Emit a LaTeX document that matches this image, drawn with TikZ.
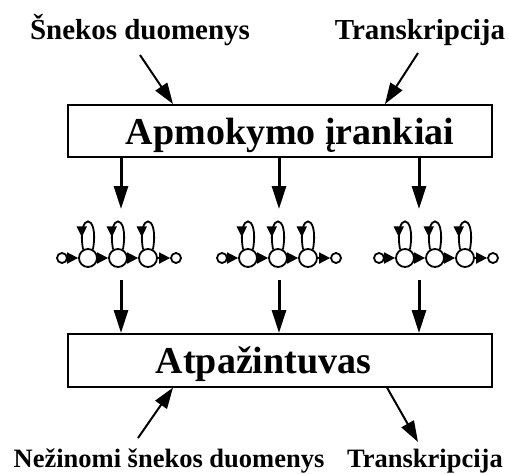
\documentclass[tikz,border=0pt]{standalone}
\usepackage{fontspec}
\setmainfont{Liberation Serif}
\usetikzlibrary{arrows.meta,decorations.markings,calc}
\begin{document}
\begin{tikzpicture}[x=1pt,y=-1pt,
  lbl/.style={font=\fontsize{29}{30}\selectfont\bfseries, anchor=base, inner sep=0},
  blbl/.style={font=\fontsize{26.5}{28}\selectfont\bfseries, anchor=base, inner sep=0},
  boxtxt/.style={font=\fontsize{38}{40}\selectfont\bfseries, anchor=base, inner sep=0},
  box/.style={draw, line width=1.6pt, minimum width=424pt, inner sep=0, anchor=north west},
  diag/.style={line width=2pt, -{Triangle[length=21pt,width=14pt]}},
  vert/.style={line width=3pt, -{Triangle[length=23pt,width=14pt]}},
  big/.style={circle, draw, line width=1.8pt, minimum size=18pt, inner sep=0},
  small/.style={circle, draw, line width=1.8pt, minimum size=10pt, inner sep=0},
  chain/.style={line width=1.8pt, -{Triangle[length=11pt,width=11pt]}},
  selfloop/.style={line width=1.8pt, postaction=decorate,
    decoration={markings, mark=at position 0.8 with {\arrow{Triangle[length=11pt,width=10pt]}}}}
]
\useasboundingbox (0,0) rectangle (509,474);

% top labels
\node[lbl] (in1) at (140,39) {Šnekos duomenys};
\node[lbl] (in2) at (420,39) {Transkripcija};

% boxes
\node[box, minimum height=52pt] (box1) at (67,104) {};
\node[boxtxt] (t1) at (290,144) {Apmokymo įrankiai};
\node[box, minimum height=53pt] (box2) at (67,333) {};
\node[boxtxt] (t2) at (263.5,373) {Atpažintuvas};

% bottom labels
\node[blbl] (out1) at (169,467) {Nežinomi šnekos duomenys};
\node[blbl] (out2) at (425,467) {Transkripcija};

% diagonal arrows
\coordinate (d1) at (140,55);
\coordinate (d2) at (418,53);
\coordinate (d3) at (138,438);
\coordinate (d4) at (418,442);
\draw[diag] (d1) -- ($(box1.north west)+(106,0)$);
\draw[diag] (d2) -- ($(box1.north west)+(318,0)$);
\draw[diag] (d3) -- ($(box2.south west)+(106,0)$);
\draw[diag] ($(box2.south west)+(320,0)$) -- (d4);

% vertical arrows
\foreach \i/\ax in {1/121, 2/279, 3/419}{
  \coordinate (va\i) at (\ax,209);
  \coordinate (vb\i) at (\ax,280);
  \draw[vert] (box1.south -| va\i) -- (va\i);
  \draw[vert] (vb\i) -- (box2.north -| vb\i);
}

% HMMs
\foreach \g/\cx in {1/118, 2/278, 3/435}{
  \node[small] (sl\g) at (\cx-56,258) {};
  \node[big] (ba\g) at (\cx-30,258) {};
  \node[big] (bb\g) at (\cx,258) {};
  \node[big] (bc\g) at (\cx+30,258) {};
  \node[small] (sr\g) at (\cx+58,258) {};
  \draw[chain] (sl\g) -- (ba\g);
  \draw[chain] (ba\g) -- (bb\g);
  \draw[chain] (bb\g) -- (bc\g);
  \draw[chain] (bc\g) -- (sr\g);
  \foreach \n in {ba\g, bb\g, bc\g}{
    \draw[selfloop] (\n.60) .. controls +(80:38pt) and +(100:38pt) .. (\n.120);
  }
}
\end{tikzpicture}
\end{document}
